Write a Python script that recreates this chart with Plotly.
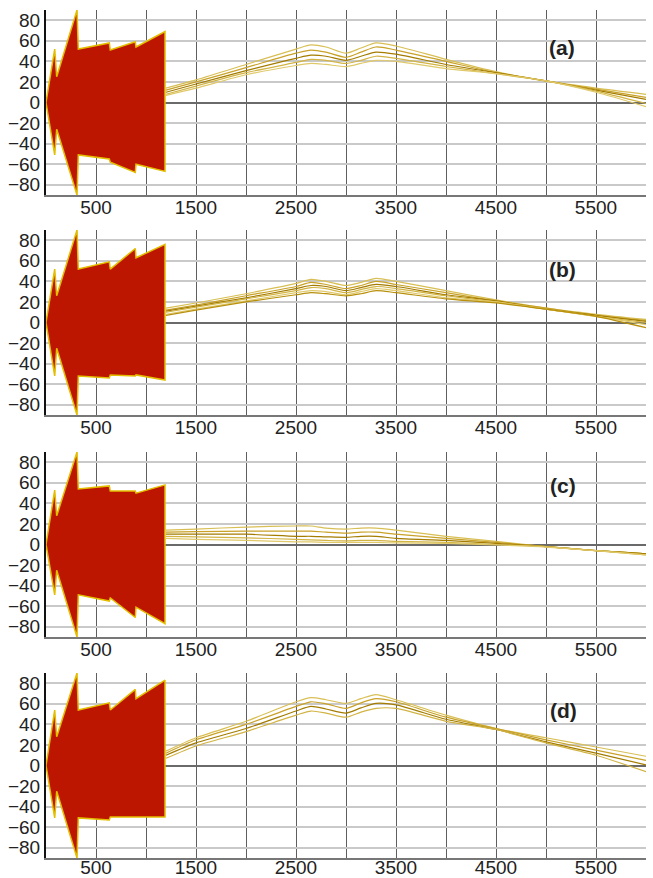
import plotly.graph_objects as go

# ---------------- data ----------------
panel_labels = ["(a)", "(b)", "(c)", "(d)"]

# envelope of the dense oscillation (0 .. 1190)
env_x = [0, 87, 107, 310, 323, 633, 643, 893, 900, 1190]
env_upper_a = [0, 52, 25, 90, 52, 58, 51, 59, 54, 69]
env_lower_a = [0, -51, -26, -90, -51, -55, -58, -68, -60, -67]
env_upper_b = [0, 52, 26, 90, 52, 59, 52, 72, 63, 76]
env_lower_b = [0, -52, -25, -90, -52, -54, -51, -52, -51, -56]
env_upper_c = [0, 53, 28, 90, 54, 57, 52, 52, 50, 58]
env_lower_c = [0, -49, -25, -90, -49, -55, -52, -71, -61, -77]
env_upper_d = [0, 54, 28, 90, 54, 61, 54, 74, 65, 83]
env_lower_d = [0, -51, -25, -90, -51, -53, -50, -50, -50, -50]

# later lines
line_x = [1200, 1500, 2000, 2500, 2650, 2800, 3000, 3150, 3300, 3500, 4000, 4500, 5000, 5500, 6000]

lines_a = [
    [14, 22, 37, 52, 56, 54, 48, 53, 58, 55, 42, 30, 21, 14, 8],
    [12, 20, 34, 48, 51, 49, 44, 49, 54, 51, 40, 29, 21, 13, 5],
    [10, 18, 31, 43, 46, 45, 41, 45, 49, 47, 37, 29, 21, 12, 3],
    [8, 16, 29, 39, 42, 41, 38, 41, 45, 43, 35, 28, 21, 11, -1],
    [7, 14, 27, 36, 38, 37, 35, 38, 41, 40, 33, 28, 21, 10, -4],
]
lines_b = [
    [14, 19, 28, 38, 42, 40, 36, 39, 43, 40, 31, 22, 14, 8, 3],
    [12, 17, 26, 35, 39, 37, 33, 36, 40, 37, 29, 21, 14, 7, 2],
    [11, 16, 24, 33, 36, 35, 31, 34, 37, 35, 27, 21, 13, 7, 1],
    [10, 15, 23, 31, 34, 33, 29, 32, 35, 33, 26, 20, 13, 6, 0],
    [8, 13, 21, 29, 31, 30, 27, 30, 33, 31, 24, 20, 13, 6, -2],
    [7, 12, 20, 27, 29, 28, 26, 28, 31, 29, 23, 19, 13, 6, -5],
]
lines_c = [
    [14, 15, 17, 18, 18, 16, 15, 16, 16, 14, 8, 3, -2, -6, -9],
    [12, 12.5, 13, 13, 13, 12, 11, 12, 12, 10, 6, 2, -2, -6, -9],
    [10, 10, 10, 8, 8, 7.5, 7, 8, 8, 6, 4, 1, -2, -6, -9],
    [8, 7.5, 6.5, 5, 4.5, 4, 3.5, 4, 4, 3, 2, 0, -2, -6, -10],
    [6, 5, 4, 2.6, 2.5, 2, 2, 2, 2, 1.5, 1, -0.5, -2.5, -6, -10],
]
lines_d = [
    [14, 27, 43, 62, 66, 64, 60.5, 65, 69, 64, 49, 36, 27, 18, 9],
    [12, 25, 40, 57.5, 62, 60, 55.6, 61, 65, 62, 47, 36, 25, 15, 5],
    [10, 22, 36, 53, 57.5, 55, 51, 56, 60.5, 59, 45, 35, 23, 12, 0.6],
    [7, 19, 33, 49, 53, 51, 47, 52, 55.6, 55.6, 43, 35, 22, 10, -6],
]

label_pos_x = [5010, 5010, 5020, 5020]
label_pos_y = [54, 52, 57, 54]

y_tickvals = [-80, -60, -40, -20, 0, 20, 40, 60, 80]
x_tickvals = [500, 1000, 1500, 2000, 2500, 3000, 3500, 4000, 4500, 5000, 5500]
x_ticktext = ["500", "", "1500", "", "2500", "", "3500", "", "4500", "", "5500"]

# ---------------- figure ----------------
envs = [(env_upper_a, env_lower_a), (env_upper_b, env_lower_b),
        (env_upper_c, env_lower_c), (env_upper_d, env_lower_d)]
all_lines = [lines_a, lines_b, lines_c, lines_d]

W, H = 653, 878
mt, mb = 10, 19
plot_h = H - mt - mb
# panel pixel spans (top, bottom)
spans = [(10, 195), (230, 415), (452, 637), (673, 858)]
domains = [[(H - mb - b) / plot_h, (H - mb - t) / plot_h] for t, b in spans]

fig = go.Figure()
line_colors = ["#d8bf55", "#c9a227", "#a47c00", "#d2b445", "#e0c96a", "#b8900c"]

for i in range(4):
    xa = "x" if i == 0 else f"x{i+1}"
    ya = "y" if i == 0 else f"y{i+1}"
    up, lo = envs[i]
    fig.add_trace(go.Scatter(
        x=env_x + env_x[::-1], y=up + lo[::-1],
        fill="toself", fillcolor="#bd1600",
        line=dict(color="#e3be00", width=1.5),
        mode="lines", xaxis=xa, yaxis=ya, showlegend=False, hoverinfo="skip"))
    for j, ln in enumerate(all_lines[i]):
        fig.add_trace(go.Scatter(
            x=line_x, y=ln, mode="lines",
            line=dict(color=line_colors[j % len(line_colors)], width=1.2,
                      shape="spline", smoothing=0.7),
            xaxis=xa, yaxis=ya, showlegend=False, hoverinfo="skip"))
    fig.add_annotation(x=label_pos_x[i], y=label_pos_y[i], xref=xa, yref=ya,
                       text=f"<b>{panel_labels[i]}</b>", showarrow=False,
                       xanchor="left", yanchor="middle",
                       font=dict(size=21, color="#222", family="Liberation Sans, Arial"))

axis_font = dict(size=19, color="#222", family="Liberation Sans, Arial")
layout = dict(
    width=W, height=H,
    margin=dict(l=46, r=7, t=mt, b=mb),
    paper_bgcolor="white", plot_bgcolor="white",
    showlegend=False,
)
for i in range(4):
    xk = "xaxis" if i == 0 else f"xaxis{i+1}"
    yk = "yaxis" if i == 0 else f"yaxis{i+1}"
    ya = "y" if i == 0 else f"y{i+1}"
    xa = "x" if i == 0 else f"x{i+1}"
    layout[xk] = dict(
        domain=[0, 1], anchor=ya, range=[0, 6000], automargin=False,
        tickmode="array", tickvals=x_tickvals, ticktext=x_ticktext,
        showgrid=True, gridcolor="#5e5e5e", gridwidth=1.2,
        zeroline=False, showline=True, linecolor="#777", linewidth=2,
        ticks="", tickfont=axis_font, fixedrange=True,
        ticklabelstandoff=(-9 if i == 3 else -6),
    )
    layout[yk] = dict(
        domain=domains[i], anchor=xa, range=[-90, 90], automargin=False,
        tickmode="array", tickvals=y_tickvals,
        showgrid=True, gridcolor="#c9c9c9", gridwidth=2,
        zeroline=True, zerolinecolor="#6a6a6a", zerolinewidth=1.5,
        showline=True, linecolor="#111", linewidth=2,
        ticks="", tickfont=axis_font, fixedrange=True,
    )
fig.update_layout(**layout)

fig.write_html("out.html", config={"displayModeBar": False},
               post_script="document.body.style.margin='0';document.body.style.padding='0';")
